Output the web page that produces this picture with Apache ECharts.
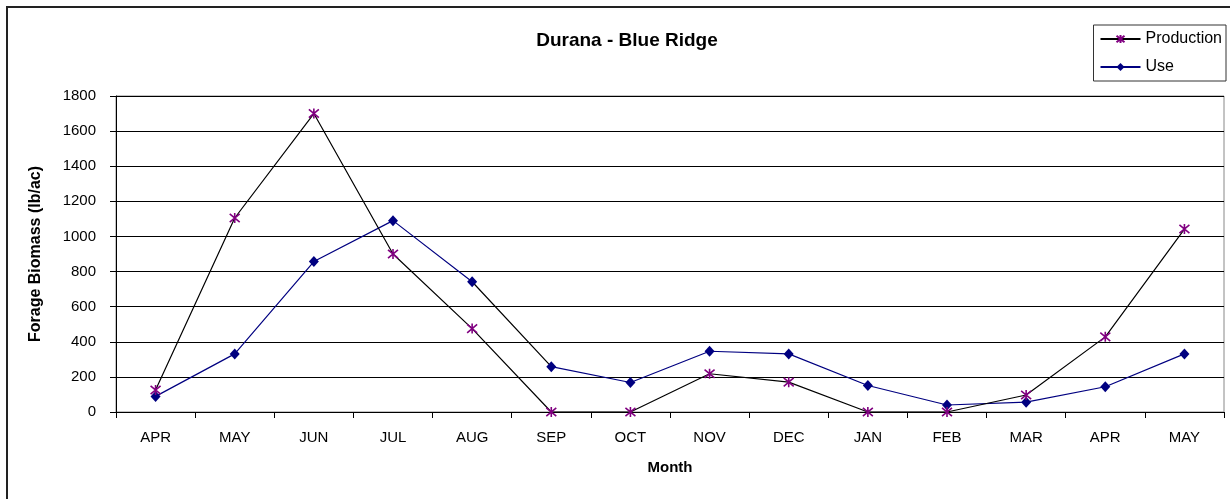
<!DOCTYPE html>
<html>
<head>
<meta charset="utf-8">
<script src="https://cdn.jsdelivr.net/npm/echarts@6/dist/echarts.min.js"></script>
<style>
html,body{margin:0;padding:0;background:#fff;}
#chart{width:1230px;height:499px;}
</style>
</head>
<body>
<div id="chart"></div>
<script>
const months = ['APR','MAY','JUN','JUL','AUG','SEP','OCT','NOV','DEC','JAN','FEB','MAR','APR','MAY'];
const production = [125, 1105, 1700, 900, 475, 0, 0, 218, 170, 0, 0, 97, 428, 1042];
const use = [89, 331, 857, 1090, 742, 258, 168, 346, 331, 151, 40, 56, 144, 331];
const yTicks = {min: 0, max: 1800, interval: 200};

const chart = echarts.init(document.getElementById('chart'));
const font = 'Arial, "Liberation Sans", sans-serif';
const star = 'path://M0,0L10,10M10,0L0,10M5,-1L5,11';

chart.setOption({
  animation: false,
  backgroundColor: '#fff',
  graphic: [{
    type: 'rect',
    shape: {x: 7, y: 7, width: 1400, height: 600},
    style: {fill: 'none', stroke: '#222', lineWidth: 2},
    silent: true, z: -1
  }],
  title: {
    text: 'Durana - Blue Ridge',
    left: 622, top: 26,
    textAlign: 'center',
    textStyle: {fontFamily: font, fontSize: 19, fontWeight: 'bold', color: '#000'}
  },
  legend: {
    right: 4, top: 25,
    orient: 'vertical',
    itemWidth: 40, itemHeight: 10, itemGap: 12,
    padding: [6, 4, 6, 6],
    borderColor: '#333', borderWidth: 1,
    textStyle: {fontFamily: font, fontSize: 16, color: '#000'},
    data: [
      {name: 'Production'},
      {name: 'Use', itemStyle: {color: '#000080'}, lineStyle: {color: '#000080'}}
    ]
  },
  grid: {
    left: 116, right: 6, top: 96, bottom: 87,
    show: true, borderColor: '#888', borderWidth: 1, backgroundColor: 'transparent'
  },
  xAxis: {
    type: 'category',
    data: months,
    boundaryGap: true,
    name: 'Month',
    nameLocation: 'middle',
    nameGap: 48,
    nameTextStyle: {fontFamily: font, fontSize: 15, fontWeight: 'bold', color: '#000'},
    axisLine: {lineStyle: {color: '#000', width: 1}},
    axisTick: {show: true, length: 6, lineStyle: {color: '#000'}, alignWithLabel: false},
    axisLabel: {fontFamily: font, fontSize: 15, color: '#000', margin: 18, interval: 0}
  },
  yAxis: {
    type: 'value',
    min: yTicks.min, max: yTicks.max, interval: yTicks.interval,
    name: 'Forage Biomass (lb/ac)',
    nameLocation: 'middle',
    nameGap: 72,
    nameTextStyle: {fontFamily: font, fontSize: 16, fontWeight: 'bold', color: '#000'},
    axisLine: {show: true, lineStyle: {color: '#000', width: 1}},
    axisTick: {show: true, length: 6, lineStyle: {color: '#000'}},
    axisLabel: {fontFamily: font, fontSize: 15, color: '#000', margin: 20, formatter: function (v) { return String(v); }},
    splitLine: {show: true, lineStyle: {color: '#000', width: 1}}
  },
  visualMap: {
    type: 'piecewise', show: false, dimension: 0, seriesIndex: 1,
    pieces: [{gt: 4, lt: 5, color: '#000'}],
    outOfRange: {color: '#000080'}
  },
  series: [
    {
      name: 'Production',
      type: 'line',
      data: production,
      symbol: star,
      symbolSize: 10,
      lineStyle: {color: '#000', width: 1.2},
      itemStyle: {color: '#800080', borderColor: '#800080', borderWidth: 1.6},
      z: 3
    },
    {
      name: 'Use',
      type: 'line',
      data: use,
      symbol: 'diamond',
      symbolSize: [10, 11],
      lineStyle: {width: 1.2},
      itemStyle: {color: '#000080'},
      z: 2
    }
  ]
});
</script>
</body>
</html>
